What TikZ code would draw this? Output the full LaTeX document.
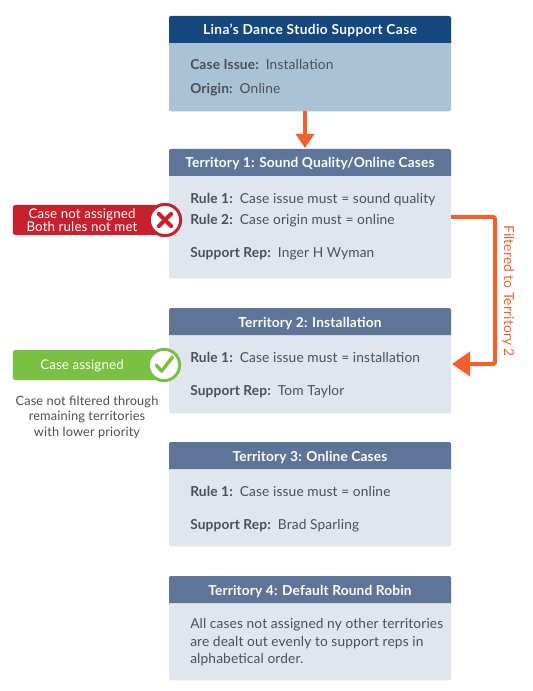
\documentclass[tikz,border=0pt]{standalone}
\usepackage{fontspec}
\setmainfont[LetterSpace=1]{Lato}
\usetikzlibrary{arrows.meta}
\definecolor{navy}{HTML}{15487F}
\definecolor{paleblue}{HTML}{AAC2D6}
\definecolor{slate}{HTML}{5F7597}
\definecolor{palegrey}{HTML}{DFE6EE}
\definecolor{orangeline}{HTML}{F4602B}
\definecolor{redbadge}{HTML}{C8202D}
\definecolor{greenbadge}{HTML}{7AC143}
\definecolor{inktext}{HTML}{4A5057}
\tikzset{
  panel/.style={rounded corners=1.5pt,minimum width=211.5pt,inner sep=0pt,anchor=north},
  titletext/.style={font=\fontsize{10.3}{12}\selectfont\bfseries,text=white!88!palegrey,anchor=base,inner sep=0pt},
  bodytext/.style={font=\fontsize{10.3}{12}\selectfont,text=inktext,anchor=base west,inner sep=0pt},
  paratext/.style={font=\fontsize{10.3}{13}\selectfont,text=inktext,anchor=north west,inner sep=0pt,align=left},
  badge/.style={rounded corners=2pt,minimum width=108.75pt,minimum height=22.5pt,inner sep=0pt,anchor=west},
  badgetext/.style={font=\fontsize{10}{9.9}\selectfont,text=white,align=center,inner sep=0pt},
  ring/.style={circle,fill=white,line width=2.25pt,minimum size=23.5pt,inner sep=0pt},
  notetext/.style={font=\fontsize{9.6}{11.7}\selectfont,text=inktext,align=center,inner sep=0pt},
  flow/.style={draw=orangeline,line width=3pt,rounded corners=1.5pt},
}
\newcommand{\card}[6]{% name, top, bottom, body fill, title fill, title
  \node[panel,fill=#4,minimum height={(#3-#2)*0.75pt}] (#1) at (310,#2) {};
  \fill[#5] (169,#2+27) [rounded corners=1.5pt] -- (169,#2) -- (451,#2) [sharp corners] -- (451,#2+27) -- cycle;
  \node[titletext] (#1title) at (310,#2+19) {#6};
}
\newcommand{\kv}[4]{\node[bodytext] (#1) at (190,#2+0.7) {\textbf{#3}\hspace{0.5em}#4};}
\begin{document}
\begin{tikzpicture}[x=0.75pt,y=-0.75pt]
\fill[white] (0,0) rectangle (532,691);
\useasboundingbox (0,0) rectangle (532,691);
\card{case}{16}{111}{paleblue}{navy}{\addfontfeature{LetterSpace=2.8}Lina’s Dance Studio Support Case}
\kv{caseissue}{69}{Case Issue:}{Installation}
\kv{caseorigin}{93}{Origin:}{Online}
\card{tone}{149}{278}{palegrey}{slate}{Territory 1: Sound Quality/Online Cases}
\kv{toneruleone}{202.5}{Rule 1:}{Case issue must = sound quality}
\kv{tonetuletwo}{223.5}{Rule 2:}{Case origin must = online}
\kv{tonerep}{256.5}{Support Rep:}{Inger H Wyman}
\card{ttwo}{308}{413}{palegrey}{slate}{Territory 2: Installation}
\kv{ttworule}{361.5}{Rule 1:}{Case issue must = installation}
\kv{ttworep}{394.5}{Support Rep:}{Tom Taylor}
\card{tthree}{442}{546}{palegrey}{slate}{Territory 3: Online Cases}
\kv{tthreerule}{495.5}{Rule 1:}{Case issue must = online}
\kv{tthreerep}{528.5}{Support Rep:}{Brad Sparling}
\card{tfour}{576}{680}{palegrey}{slate}{Territory 4: Default Round Robin}
\node[paratext] (tfourtext) at (190,618.5) {All cases not assigned ny other territories\\are dealt out evenly to support reps in\\alphabetical order.};
% connectors
\coordinate (casefoot) at (305,111);
\coordinate (tonehead) at (305,148);
\coordinate (toneout) at (451,217);
\coordinate (ttwoin) at (452,364);
\coordinate (bend) at (495,217);
\coordinate (bendb) at (495,364);
\draw[flow,-{Triangle[length=10.5pt,width=13.5pt]}] (casefoot) -- (tonehead);
\draw[flow,-{Triangle[length=13.5pt,width=18pt]}] (toneout) -- (bend) -- (bendb) -- (ttwoin);
\node[rotate=-90,font=\fontsize{10.3}{12}\selectfont,text=orangeline,inner sep=0pt] (filterlabel) at (508,291) {Filtered to Territory 2};
% badges
\node[badge,fill=redbadge] (redbar) at (12.5,220) {};
\node[badgetext] (redtext) at (82,220) {Case not assigned\\Both rules not met};
\node[ring,draw=redbadge] (redring) at (165,220) {};
\draw[redbadge,line width=3pt,line cap=round] ([xshift=-4.6pt,yshift=4.6pt]redring.center) -- ([xshift=4.6pt,yshift=-4.6pt]redring.center);
\draw[redbadge,line width=3pt,line cap=round] ([xshift=-4.6pt,yshift=-4.6pt]redring.center) -- ([xshift=4.6pt,yshift=4.6pt]redring.center);
\node[badge,fill=greenbadge] (greenbar) at (12.5,365) {};
\node[badgetext] (greentext) at (82,365.7) {Case assigned};
\node[ring,draw=greenbadge] (greenring) at (164,365) {};
\draw[greenbadge,line width=2.6pt,line cap=round,line join=round] ([xshift=-5.8pt,yshift=0pt]greenring.center) -- ([xshift=-1.8pt,yshift=-4.6pt]greenring.center) -- ([xshift=6.4pt,yshift=6pt]greenring.center);
\node[notetext] (note) at (87,417) {Case not filtered through\\remaining territories\\with lower priority};
\end{tikzpicture}
\end{document}
